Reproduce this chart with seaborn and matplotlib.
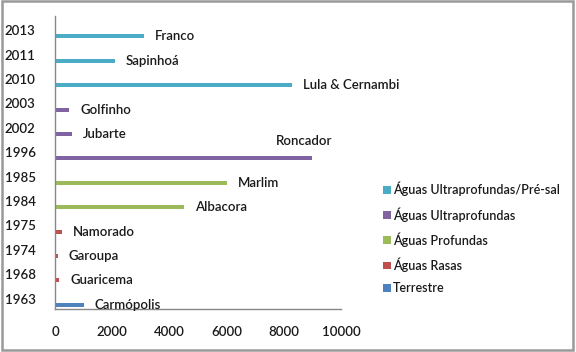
import matplotlib
matplotlib.use("Agg")
import matplotlib.pyplot as plt
import seaborn as sns
import pandas as pd
import numpy as np
from matplotlib.patches import Rectangle

years = ["1963", "1968", "1974", "1975", "1984", "1985", "1996", "2002", "2003", "2010", "2011", "2013"]
fields = ["Carmópolis", "Guaricema", "Garoupa", "Namorado", "Albacora", "Marlim", "Roncador",
          "Jubarte", "Golfinho", "Lula & Cernambi", "Sapinhoá", "Franco"]
values = [1000, 150, 100, 250, 4500, 6000, 9000, 600, 500, 8300, 2100, 3100]
types = ["Terrestre", "Águas Rasas", "Águas Rasas", "Águas Rasas", "Águas Profundas", "Águas Profundas",
         "Águas Ultraprofundas", "Águas Ultraprofundas", "Águas Ultraprofundas",
         "Águas Ultraprofundas/Pré-sal", "Águas Ultraprofundas/Pré-sal", "Águas Ultraprofundas/Pré-sal"]
legend_order = ["Águas Ultraprofundas/Pré-sal", "Águas Ultraprofundas", "Águas Profundas",
                "Águas Rasas", "Terrestre"]
colors = {"Águas Ultraprofundas/Pré-sal": "#4BACC6", "Águas Ultraprofundas": "#8064A2",
          "Águas Profundas": "#9BBB59", "Águas Rasas": "#C0504D", "Terrestre": "#4F81BD"}

sns.set_style("white")
plt.rcParams['font.family'] = ['Lato', 'DejaVu Sans']
TXT = "#1a1a1a"
FW = "semibold"

BAR_SHIFT = 0.33
df = pd.DataFrame({"ano": years, "campo": fields, "valor": values, "tipo": types})
df["pos"] = np.arange(len(years)) - BAR_SHIFT

fig = plt.figure(figsize=(5.76, 3.52), dpi=100)
ax = fig.add_axes([55/576, 1 - 309/352, (341 - 55)/576, (309 - 16)/352])

sns.barplot(data=df, x="valor", y="pos", hue="tipo", hue_order=legend_order, palette=colors,
            orient="h", native_scale=True, dodge=False, width=0.165, ax=ax, legend=False,
            saturation=1, linewidth=0)

ax.set_xlim(0, 10000)
ax.set_ylim(-0.5, len(years) - 0.5)
ax.set_xticks(range(0, 10001, 2000))
ax.set_xticklabels([str(v) for v in range(0, 10001, 2000)], fontsize=9.5, color=TXT, fontweight=FW)
ax.set_yticks(np.arange(len(years)) - 0.08)
ax.set_yticklabels(years, fontsize=9.5, color=TXT, fontweight=FW)
ax.set_yticks(np.arange(len(years) + 1) - 0.5, minor=True)
ax.tick_params(axis="y", which="major", length=0, pad=14)
ax.tick_params(axis="y", which="minor", length=4, color="#888888", width=1, direction="out")
ax.tick_params(axis="x", which="major", length=4, color="#888888", width=1, direction="out", pad=8)
ax.set_xlabel("")
ax.set_ylabel("")
for s in ["top", "right"]:
    ax.spines[s].set_visible(False)
for s in ["left", "bottom"]:
    ax.spines[s].set_color("#888888")
    ax.spines[s].set_linewidth(1)

for i, row in df.iterrows():
    if row["campo"] == "Roncador":
        ax.annotate(row["campo"], (row["valor"], row["pos"]), xytext=(-8, 17),
                    textcoords="offset pixels", ha="center", va="center", fontsize=9.5,
                    color=TXT, fontweight=FW)
    else:
        ax.annotate(row["campo"], (row["valor"], row["pos"]), xytext=(11, 0),
                    textcoords="offset pixels", ha="left", va="center", fontsize=9.5,
                    color=TXT, fontweight=FW)

handles = [Rectangle((0, 0), 1, 1, facecolor=colors[t], edgecolor="none") for t in legend_order]
fig.legend(handles, legend_order, loc="upper left", bbox_to_anchor=(378/576, 1 - 177/352),
           frameon=False, handlelength=0.6, handleheight=0.6, handletextpad=0.2,
           labelspacing=0.85, borderaxespad=0, labelcolor=TXT,
           prop={"size": 9, "weight": FW})

fig.patches.append(Rectangle((0.004, 0.006), 0.99, 0.99, transform=fig.transFigure,
                             fill=False, edgecolor="#999999", linewidth=1.8))

fig.savefig("out.png", dpi=100)
